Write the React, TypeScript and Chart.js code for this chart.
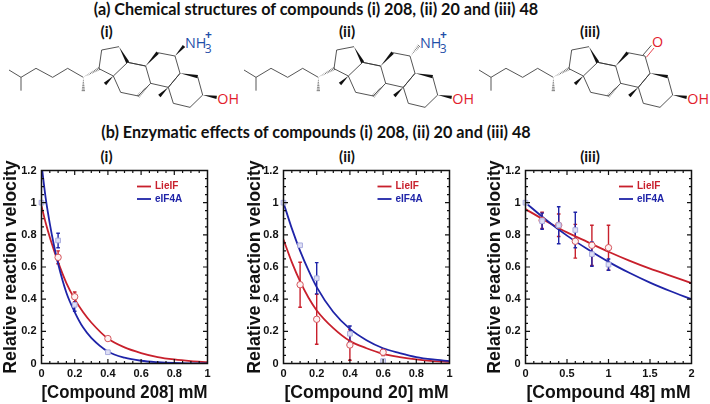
import React, { useEffect, useRef } from "react";
import { Chart, registerables } from "chart.js";

Chart.register(...registerables);

const RED = "#c8202c";
const BLUE = "#1f24a8";
const FONT = '"Liberation Sans", Arial, sans-serif';

// ---- Panel (i)
const curveX1 = [0, 0.025, 0.05, 0.075, 0.1, 0.15, 0.2, 0.25, 0.3, 0.4, 0.5, 0.6, 0.7, 0.8, 0.9, 1];
const curveRed1 = [0.98, 0.875, 0.785, 0.705, 0.63, 0.5, 0.4, 0.32, 0.255, 0.155, 0.1, 0.065, 0.04, 0.025, 0.015, 0.008];
const curveBlue1 = [1.24, 1.03, 0.87, 0.735, 0.62, 0.44, 0.32, 0.225, 0.16, 0.075, 0.036, 0.017, 0.008, 0.003, 0.001, 0];
const pointX1 = [0, 0.1, 0.2, 0.4];
const pointRed1 = [1, 0.66, 0.415, 0.155];
const errRed1 = [0, 0.04, 0.03, 0.012];
const pointBlue1 = [1, 0.765, 0.365, 0.07];
const errBlue1 = [0, 0.045, 0.04, 0.006];

// ---- Panel (ii)
const curveX2 = [0, 0.05, 0.1, 0.15, 0.2, 0.3, 0.4, 0.5, 0.6, 0.7, 0.8, 0.9, 1];
const curveRed2 = [0.77, 0.63, 0.51, 0.41, 0.33, 0.22, 0.14, 0.095, 0.06, 0.04, 0.025, 0.015, 0.01];
const curveBlue2 = [1.0, 0.84, 0.7, 0.58, 0.475, 0.32, 0.215, 0.145, 0.095, 0.065, 0.04, 0.025, 0.015];
const pointX2 = [0, 0.1, 0.2, 0.4, 0.6];
const pointRed2 = [1, 0.49, 0.275, 0.115, 0.07];
const errRed2 = [0, 0.14, 0.155, 0.095, 0.02];
const pointBlue2 = [1, 0.735, 0.53, 0.185, 0.015];
const errBlue2 = [0, 0, 0.097, 0.048, 0];

// ---- Panel (iii)
const curveX3 = [0, 0.25, 0.5, 0.75, 1, 1.25, 1.5, 1.75, 2];
const curveRed3 = [0.96, 0.885, 0.815, 0.755, 0.695, 0.64, 0.59, 0.545, 0.5];
const curveBlue3 = [1.0, 0.892, 0.795, 0.71, 0.632, 0.564, 0.503, 0.449, 0.4];
const pointX3 = [0, 0.2, 0.4, 0.6, 0.8, 1];
const pointRed3 = [1, 0.89, 0.86, 0.76, 0.735, 0.72];
const errRed3 = [0, 0.05, 0.07, 0.105, 0.125, 0.14];
const pointBlue3 = [1, 0.885, 0.86, 0.83, 0.68, 0.615];
const errBlue3 = [0, 0.05, 0.115, 0.11, 0.075, 0.035];

const ticksY = [0, 0.2, 0.4, 0.6, 0.8, 1, 1.2];
const ticksX12 = [0, 0.2, 0.4, 0.6, 0.8, 1];
const ticksX3 = [0, 0.5, 1, 1.5, 2];

const seriesNames = ["LieIF", "eIF4A"];
const titleY = "Relative reaction velocity";

const headingA = "(a) Chemical structures of compounds (i) 208, (ii) 20 and (iii) 48";
const headingB = "(b) Enzymatic effects of compounds (i) 208, (ii) 20 and (iii) 48";

type PanelDef = {
  left: number; width: number; plotLeft: number; plotRight: number;
  xTitle: string; xMax: number; xTicks: number[]; xMinor: number;
  curveX: number[]; curveRed: number[]; curveBlue: number[];
  pointX: number[]; pointRed: number[]; errRed: number[]; pointBlue: number[]; errBlue: number[];
  legendX: number;
};

const panels: PanelDef[] = [
  { left: 0, width: 232, plotLeft: 41.5, plotRight: 207.5, xTitle: "[Compound 208] mM", xMax: 1, xTicks: ticksX12, xMinor: 0.05,
    curveX: curveX1, curveRed: curveRed1, curveBlue: curveBlue1, pointX: pointX1, pointRed: pointRed1, errRed: errRed1, pointBlue: pointBlue1, errBlue: errBlue1, legendX: 137 },
  { left: 244, width: 228, plotLeft: 283.5, plotRight: 449.5, xTitle: "[Compound 20] mM", xMax: 1, xTicks: ticksX12, xMinor: 0.05,
    curveX: curveX2, curveRed: curveRed2, curveBlue: curveBlue2, pointX: pointX2, pointRed: pointRed2, errRed: errRed2, pointBlue: pointBlue2, errBlue: errBlue2, legendX: 377.5 },
  { left: 484, width: 226, plotLeft: 525.5, plotRight: 691.5, xTitle: "[Compound 48] mM", xMax: 2, xTicks: ticksX3, xMinor: 0.1,
    curveX: curveX3, curveRed: curveRed3, curveBlue: curveBlue3, pointX: pointX3, pointRed: pointRed3, errRed: errRed3, pointBlue: pointBlue3, errBlue: errBlue3, legendX: 619 },
];

const PLOT_TOP = 170.5;
const PLOT_BOTTOM = 363.5;
const CANVAS_TOP = 150;
const CANVAS_H = 254;

const framePlugin = {
  id: "frame",
  beforeDatasetsDraw(chart: any, _a: any, opts: any) {
    const { ctx, scales } = chart;
    const { x, y } = scales;
    ctx.save();
    // error bars sit under the curves and the markers
    const drawErr = (xs: number[], ys: number[], es: number[], color: string) => {
      ctx.strokeStyle = color;
      ctx.lineWidth = 1.4;
      xs.forEach((v, i) => {
        if (!es[i]) return;
        const px = x.getPixelForValue(v);
        const hi = y.getPixelForValue(ys[i] + es[i]);
        const lo = y.getPixelForValue(ys[i] - es[i]);
        ctx.beginPath();
        ctx.moveTo(px, hi); ctx.lineTo(px, lo);
        ctx.moveTo(px - 1.8, hi); ctx.lineTo(px + 1.8, hi);
        ctx.moveTo(px - 1.8, lo); ctx.lineTo(px + 1.8, lo);
        ctx.stroke();
      });
    };
    drawErr(opts.p.pointX, opts.p.pointRed, opts.p.errRed, RED);
    drawErr(opts.p.pointX, opts.p.pointBlue, opts.p.errBlue, BLUE);
    ctx.restore();
  },
  afterDatasetsDraw(chart: any, _a: any, opts: any) {
    const { ctx, chartArea: a, scales } = chart;
    const { x, y } = scales;
    ctx.save();
    // inward ticks on all four sides
    ctx.strokeStyle = "#111";
    ctx.lineWidth = 1.2;
    const step = opts.p.xMinor;
    const nx = Math.round(opts.p.xMax / step);
    const major = (v: number, list: number[]) => list.some((t) => Math.abs(t - v) < 1e-6);
    for (let i = 1; i < nx; i++) {
      const v = i * step;
      const px = x.getPixelForValue(v);
      const l = major(v, opts.p.xTicks) ? 4.5 : 2.5;
      ctx.beginPath();
      ctx.moveTo(px, a.bottom); ctx.lineTo(px, a.bottom - l);
      ctx.moveTo(px, a.top); ctx.lineTo(px, a.top + l);
      ctx.stroke();
    }
    for (let i = 1; i < 24; i++) {
      const v = i * 0.05;
      const py = y.getPixelForValue(v);
      const l = major(v, ticksY) ? 4.5 : 2.5;
      ctx.beginPath();
      ctx.moveTo(a.left, py); ctx.lineTo(a.left + l, py);
      ctx.moveTo(a.right, py); ctx.lineTo(a.right - l, py);
      ctx.stroke();
    }
    ctx.lineWidth = 1.5;
    ctx.strokeRect(a.left, a.top, a.right - a.left, a.bottom - a.top);

    // legend
    const names = [chart.data.datasets[0], chart.data.datasets[1]];
    ctx.font = `bold 10px ${FONT}`;
    ctx.textBaseline = "middle";
    names.forEach((d: any, i: number) => {
      const ly = a.top + 16 + i * 12.5;
      const lx = opts.p.legendX - opts.p.left;
      ctx.strokeStyle = d.borderColor;
      ctx.lineWidth = 1.8;
      ctx.beginPath(); ctx.moveTo(lx, ly); ctx.lineTo(lx + 14, ly); ctx.stroke();
      ctx.fillStyle = d.borderColor;
      ctx.fillText(d.label, lx + 18, ly);
    });
    ctx.restore();
  },
};

function Panel({ p }: { p: PanelDef }) {
  const ref = useRef<HTMLCanvasElement>(null);
  useEffect(() => {
    const zip = (xs: number[], ys: number[]) => xs.map((x, i) => ({ x, y: ys[i] }));
    const chart = new Chart(ref.current!, {
      type: "scatter",
      plugins: [framePlugin],
      data: {
        datasets: [
          { label: seriesNames[0], data: zip(p.curveX, p.curveRed), showLine: true, borderColor: RED, borderWidth: 1.8, pointRadius: 0, cubicInterpolationMode: "monotone", order: 3 },
          { label: seriesNames[1], data: zip(p.curveX, p.curveBlue), showLine: true, borderColor: BLUE, borderWidth: 1.8, pointRadius: 0, cubicInterpolationMode: "monotone", order: 2 },
          { label: "LieIF points", data: zip(p.pointX.slice(1), p.pointRed.slice(1)), showLine: false, pointStyle: "circle", pointRadius: 3.2, borderWidth: 1, borderColor: "#d4545c", backgroundColor: "#fdf3f3", clip: false, order: 1 },
          { label: "eIF4A points", data: zip(p.pointX, p.pointBlue), showLine: false, pointStyle: "rect", pointRadius: 3.3, borderWidth: 1, borderColor: "#a9acdf", backgroundColor: "#dfe0f5", clip: false, order: 0 },
        ] as any,
      },
      options: {
        animation: false,
        responsive: false,
        layout: { padding: { left: 0, right: p.left + p.width - p.plotRight, top: PLOT_TOP - CANVAS_TOP, bottom: 0 } },
        plugins: { legend: { display: false }, tooltip: { enabled: false }, frame: { p } } as any,
        scales: {
          x: {
            type: "linear", min: 0, max: p.xMax,
            afterBuildTicks: (s: any) => { s.ticks = p.xTicks.map((value) => ({ value })); },
            afterFit: (s: any) => { s.height = CANVAS_TOP + CANVAS_H - PLOT_BOTTOM; },
            grid: { display: false, drawTicks: false }, border: { display: false },
            ticks: { color: "#111", font: { family: FONT, size: 11, weight: "bold" }, padding: 4, maxRotation: 0, callback: (v: any) => String(v) },
            title: { display: true, text: p.xTitle, color: "#111", font: { family: FONT, size: 17.6, weight: "bold" }, padding: { top: 1, bottom: 0 } },
          },
          y: {
            type: "linear", min: 0, max: 1.2,
            afterBuildTicks: (s: any) => { s.ticks = ticksY.map((value) => ({ value })); },
            afterFit: (s: any) => { s.width = p.plotLeft - p.left; },
            grid: { display: false, drawTicks: false }, border: { display: false },
            ticks: { color: "#111", font: { family: FONT, size: 11, weight: "bold" }, padding: 5, callback: (v: any) => String(v) },
            title: { display: true, text: titleY, color: "#111", font: { family: FONT, size: 17.8, weight: "bold" }, padding: 0 },
          },
        },
      } as any,
    });
    return () => chart.destroy();
  }, []);
  return (
    <canvas ref={ref} width={p.width} height={CANVAS_H}
      style={{ position: "absolute", left: p.left, top: CANVAS_TOP, width: p.width, height: CANVAS_H }} />
  );
}

// Molecule skeleton, in 3x design units, shared by all three structures.
const bonds = [
  "27,210 63,232 63,272", "63,232 108,205 158,232 203,205 250,232",
  "297,206 305,150 357,140", "383,187 340,228 297,206",
  "383,187 437,198 452,250 415,288 362,277 340,228",
  "473,158 525,168 540,220 505,262 452,250", "437,198 383,187",
  "593,230 608,285", "608,285 570,322 520,310 505,262", "540,220 505,262",
];
const solidWedges = [
  [357, 140, 383, 187], [437, 198, 473, 158], [540, 220, 593, 230], [608, 285, 650, 292],
  [340, 228, 315, 252], [505, 262, 478, 288],
];
const hashedWedges = [[250, 232, 297, 206], [250, 232, 250, 272], [452, 250, 415, 288]];

function wedgePoints(w: number[], width = 5) {
  const [x1, y1, x2, y2] = w;
  const dx = x2 - x1, dy = y2 - y1, len = Math.hypot(dx, dy);
  const nx = (-dy / len) * width, ny = (dx / len) * width;
  return `${x1},${y1} ${x2 + nx},${y2 + ny} ${x2 - nx},${y2 - ny}`;
}

function Hashed({ w }: { w: number[] }) {
  const [x1, y1, x2, y2] = w;
  const dx = x2 - x1, dy = y2 - y1, len = Math.hypot(dx, dy);
  const count = Math.round(len / 5);
  const items = [];
  for (let i = 1; i <= count; i++) {
    const t = i / count;
    const cx = x1 + dx * t, cy = y1 + dy * t;
    const hw = 5 * t;
    items.push(<line key={i} x1={cx - (dy / len) * hw} y1={cy + (dx / len) * hw} x2={cx + (dy / len) * hw} y2={cy - (dx / len) * hw} stroke="#333" strokeWidth={2} />);
  }
  return <g>{items}</g>;
}

function Molecule({ kind, left }: { kind: number; left: number }) {
  const labels = ["(i)", "(ii)", "(iii)"];
  const labelX = [320, 336, 360];
  return (
    <svg width={240} height={130} viewBox="0 0 720 390" style={{ position: "absolute", left, top: 0 }}>
      <text x={labelX[kind]} y={112} textAnchor="middle" fontFamily="Lato" fontWeight={700} fontSize={46} fill="#111">{labels[kind]}</text>
      {bonds.map((b, i) => <polyline key={i} points={b} fill="none" stroke="#333" strokeWidth={2.5} />)}
      {solidWedges.map((w, i) => <polygon key={i} points={wedgePoints(w)} fill="#111" />)}
      {hashedWedges.map((w, i) => <Hashed key={i} w={w} />)}
      <text x={652} y={311} fontFamily="'Open Sans'" fontSize={43} fill="#e2202c">OH</text>
      {kind === 0 && <polygon points={wedgePoints([525, 168, 552, 138])} fill="#111" />}
      {kind === 1 && <Hashed w={[525, 168, 552, 138]} />}
      {kind < 2 && (
        <g fontFamily="'Open Sans'" fill="#1f4fa8">
          <text x={555} y={143} fontSize={43}>NH</text>
          <text x={614} y={160} fontSize={36}>3</text>
          <text x={615} y={118} fontSize={36} fontWeight={700}>+</text>
        </g>
      )}
      {kind === 2 && (
        <g>
          <line x1={519} y1={165} x2={544} y2={136} stroke="#333" strokeWidth={2.5} />
          <line x1={529} y1={172} x2={552} y2={144} stroke="#e2202c" strokeWidth={2.5} />
          <text x={546} y={140} fontFamily="'Open Sans'" fontSize={43} fill="#e2202c">O</text>
        </g>
      )}
    </svg>
  );
}

const topTextStyle = (top: number): React.CSSProperties => ({
  position: "absolute", left: -39, width: 710, top, textAlign: "center",
  fontFamily: "Lato, sans-serif", fontWeight: 700, fontSize: 16.2, color: "#111", whiteSpace: "pre", lineHeight: "20px",
});

const subTitles = [
  { text: "(i)", x: 106.5 }, { text: "(ii)", x: 347 }, { text: "(iii)", x: 590 },
];

export default function App() {
  return (
    <div style={{ position: "absolute", left: 0, top: 0, width: 710, height: 404, background: "#fff", overflow: "hidden" }}>
      <div style={topTextStyle(-1)}>{headingA}</div>
      <div style={topTextStyle(122)}>{headingB}</div>
      {subTitles.map((s) => (
        <div key={s.text} style={{ position: "absolute", left: s.x - 20, width: 40, top: 146, textAlign: "center", fontFamily: "Lato, sans-serif", fontWeight: 700, fontSize: 15, color: "#111", lineHeight: "20px" }}>{s.text}</div>
      ))}
      <Molecule kind={0} left={0} />
      <Molecule kind={1} left={235} />
      <Molecule kind={2} left={470} />
      {panels.map((p, i) => <Panel key={i} p={p} />)}
    </div>
  );
}
